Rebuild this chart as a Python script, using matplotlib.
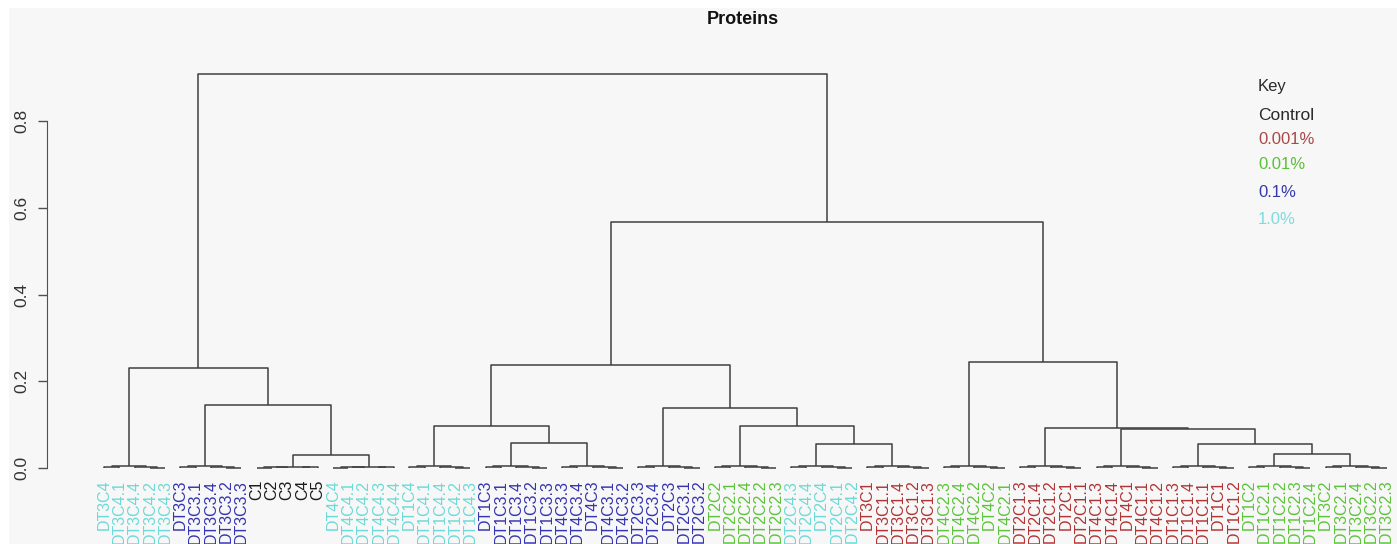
import matplotlib
matplotlib.use("Agg")
import matplotlib.pyplot as plt
from matplotlib.patches import Rectangle

plt.rcParams['font.family'] = ['Liberation Sans', 'DejaVu Sans']

W, H = 1397, 544

# leaves in dendrogram order (17 blocks of five replicates)
leaf_labels = [
    "DT3C4", "DT3C4.1", "DT3C4.4", "DT3C4.2", "DT3C4.3",
    "DT3C3", "DT3C3.1", "DT3C3.4", "DT3C3.2", "DT3C3.3",
    "C1", "C2", "C3", "C4", "C5",
    "DT4C4", "DT4C4.1", "DT4C4.2", "DT4C4.3", "DT4C4.4",
    "DT1C4", "DT1C4.1", "DT1C4.4", "DT1C4.2", "DT1C4.3",
    "DT1C3", "DT1C3.1", "DT1C3.4", "DT1C3.2", "DT1C3.3",
    "DT4C3.3", "DT4C3.4", "DT4C3", "DT4C3.1", "DT4C3.2",
    "DT2C3.3", "DT2C3.4", "DT2C3", "DT2C3.1", "DT2C3.2",
    "DT2C2", "DT2C2.1", "DT2C2.4", "DT2C2.2", "DT2C2.3",
    "DT2C4.3", "DT2C4.4", "DT2C4", "DT2C4.1", "DT2C4.2",
    "DT3C1", "DT3C1.1", "DT3C1.4", "DT3C1.2", "DT3C1.3",
    "DT4C2.3", "DT4C2.4", "DT4C2.2", "DT4C2", "DT4C2.1",
    "DT2C1.3", "DT2C1.4", "DT2C1.2", "DT2C1", "DT2C1.1",
    "DT4C1.3", "DT4C1.4", "DT4C1", "DT4C1.1", "DT4C1.2",
    "DT1C1.3", "DT1C1.4", "DT1C1.1", "DT1C1", "DT1C1.2",
    "DT1C2", "DT1C2.1", "DT1C2.2", "DT1C2.3", "DT1C2.4",
    "DT3C2", "DT3C2.1", "DT3C2.4", "DT3C2.2", "DT3C2.3",
]

# merge height of the five replicates inside each block
block_top = [0.004, 0.004, 0.003, 0.003, 0.004, 0.004, 0.004, 0.004, 0.004,
             0.004, 0.004, 0.004, 0.004, 0.004, 0.004, 0.004, 0.004]
block_shape = ["a", "a", "b", "b", "a", "a", "a", "a", "a",
               "a", "a", "a", "a", "a", "a", "a", "a"]

# merges between blocks: (left, right, height), ints are block numbers
upper_tree = (
    (0, (1, (2, 3, 0.030), 0.145), 0.230),
    (((4, (5, 6, 0.058), 0.097),
      (7, (8, (9, 10, 0.055), 0.097), 0.138), 0.237),
     (11, (12, (13, (14, (15, 16, 0.032), 0.055), 0.090), 0.092), 0.244),
     0.567),
    0.908,
)

key_labels = ["Control", "0.001%", "0.01%", "0.1%", "1.0%"]
key_colors = ["#2a2a2a", "#a84848", "#5cbf38", "#3838ae", "#7edcdc"]

# label colour by concentration code (C1..C4); plain C = control
conc_colors = {"1": "#b03535", "2": "#5cc43a", "3": "#3434b0", "4": "#6cdad8"}


def label_color(lab):
    if lab.startswith("C"):
        return "#1a1a1a"
    return conc_colors[lab.split("C")[1][0]]


def make_block(k):
    l = [5 * k + j for j in range(5)]
    top = block_top[k]
    if block_shape[k] == "a":
        return ((l[0], l[1], 0.0015), (l[2], (l[3], l[4], 0.001), 0.002), top)
    return (((l[0], l[1], 0.001), l[2], 0.002), (l[3], l[4], 0.0015), top)


def expand(node):
    if isinstance(node, int):
        return make_block(node)
    left, right, h = node
    return (expand(left), expand(right), h)


fig = plt.figure(figsize=(W / 100, H / 100), dpi=100)
fig.patch.set_facecolor("white")
fig.patches.append(Rectangle((9 / W, 0), 1, 1 - 8 / H, transform=fig.transFigure,
                             facecolor="#f7f7f7", edgecolor="none", zorder=-10))

ax = fig.add_axes([47 / W, (H - 468) / H, (1392 - 47) / W, (468 - 40) / H])
ax.set_facecolor("none")
ax.set_xlim(-2.733, 85.35)
ax.set_ylim(0, (468 - 40) / 433.75)

line_kw = dict(color="#404040", lw=1.1, solid_capstyle="butt", clip_on=False)


def draw(node):
    if isinstance(node, int):
        return node + 1, 0.0
    left, right, h = node
    xl, hl = draw(left)
    xr, hr = draw(right)
    ax.plot([xl, xl, xr, xr], [hl, h, h, hr], **line_kw)
    return (xl + xr) / 2, h


draw(expand(upper_tree))

for i, lab in enumerate(leaf_labels):
    ax.text(i + 1, -0.027, lab, rotation=90, ha="center", va="top",
            fontsize=11.5, color=label_color(lab), clip_on=False)

for s in ["top", "right", "bottom"]:
    ax.spines[s].set_visible(False)
ax.spines["left"].set_bounds(0, 0.8)
ax.spines["left"].set_color("#505050")
ax.set_xticks([])
ax.set_yticks([0.0, 0.2, 0.4, 0.6, 0.8])
ax.set_yticklabels(["0.0", "0.2", "0.4", "0.6", "0.8"], rotation=90, va="center")
ax.tick_params(axis="y", length=6.5, width=1, color="#505050", pad=6,
               labelsize=12.5, labelcolor="#333333")

fig.text(743 / W, 1 - 20 / H, "Proteins", ha="center", va="center",
         fontsize=13, fontweight="bold", color="#111111")

fig.text(1258 / W, 1 - 87 / H, "Key", ha="left", va="center",
         fontsize=12, color="#2a2a2a")
key_y = [116, 139, 165, 192, 219]
for lab, col, y in zip(key_labels, key_colors, key_y):
    fig.text(1258 / W, 1 - y / H, lab, ha="left", va="center",
             fontsize=12.5 if lab == "Control" else 12, color=col)

fig.savefig("out.png", dpi=100)
